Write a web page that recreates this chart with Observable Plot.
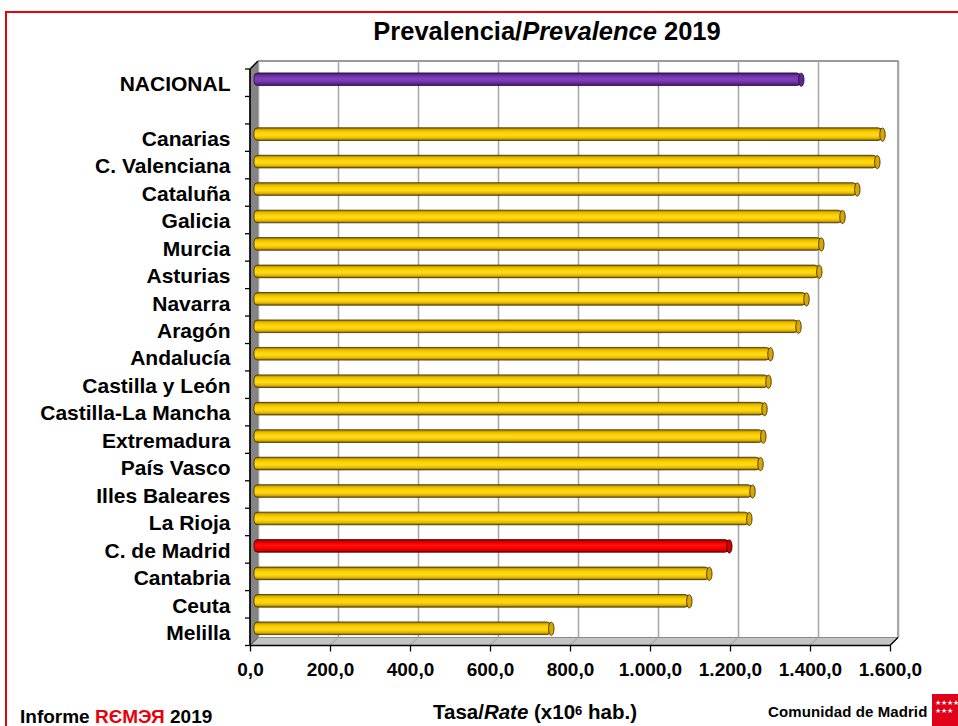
<!DOCTYPE html>
<html><head><meta charset="utf-8">
<script src="https://cdn.jsdelivr.net/npm/d3@7"></script>
<script src="https://cdn.jsdelivr.net/npm/@observablehq/plot@0.6"></script>
<style>
body{margin:0;background:#fff;font-family:Arial,"Liberation Sans",sans-serif;}
#wrap{position:relative;width:958px;height:726px;overflow:hidden;background:#fff;}
#border{position:absolute;left:5px;top:11px;width:980px;height:740px;border-left:2px solid #e8000b;border-top:2px solid #e8000b;}
#chart{position:absolute;left:0;top:0;width:958px;height:690px;}
#chart svg{max-width:none !important;width:958px;height:690px;}
#title{position:absolute;left:547px;top:16px;transform:translateX(-50%);white-space:nowrap;font-size:25.5px;font-weight:bold;color:#000;line-height:30px;}
#xlabel{position:absolute;left:535px;top:700px;transform:translateX(-50%);white-space:nowrap;font-size:20.5px;font-weight:bold;line-height:24px;}
#xlabel sup{font-size:13px;vertical-align:top;position:relative;top:-1px;}
#foot{position:absolute;left:20px;top:708px;font-size:19px;font-weight:bold;white-space:nowrap;line-height:18px;}
#foot span{color:#e8000b;}
#cm{position:absolute;left:768px;top:703px;font-size:15px;font-weight:900;white-space:nowrap;line-height:18px;letter-spacing:0.1px;}
#logo{position:absolute;left:932px;top:694px;width:30px;height:32px;background:#e1001a;color:#fff;font-size:7px;line-height:8px;padding:5px 0 0 3px;box-sizing:border-box;}
</style></head><body>
<div id="wrap">
  <div id="border"></div>
  <div id="chart"></div>
  <div id="title">Prevalencia/<i>Prevalence</i> 2019</div>
  <div id="xlabel">Tasa/<i>Rate</i> (x10<sup>6</sup> hab.)</div>
  <div id="foot">Informe <span>RЄMЭЯ</span> 2019</div>
  <div id="cm">Comunidad de Madrid</div>
  <div id="logo">★★★★<br>★★★</div>
</div>
<script>
// ---- data ----
const categories = ["NACIONAL", "Canarias", "C. Valenciana", "Cataluña", "Galicia", "Murcia", "Asturias", "Navarra", "Aragón", "Andalucía", "Castilla y León", "Castilla-La Mancha", "Extremadura", "País Vasco", "Illes Baleares", "La Rioja", "C. de Madrid", "Cantabria", "Ceuta", "Melilla"];
const values = [1367, 1570, 1557, 1507, 1470, 1417, 1412, 1380, 1360, 1290, 1285, 1275, 1272, 1265, 1245, 1237, 1187, 1137, 1087, 742];
const groups = ["nacional", "region", "region", "region", "region", "region", "region", "region", "region", "region", "region", "region", "region", "region", "region", "region", "madrid", "region", "region", "region"];
const gapLabel = " ";
const xTicks = [0, 200, 400, 600, 800, 1000, 1200, 1400, 1600];

const yDomain = [categories[0], gapLabel, ...categories.slice(1)];
const data = categories.map((c, i) => ({name: c, value: values[i], group: groups[i]}));

const fmt = d3.formatLocale({decimal: ",", thousands: ".", grouping: [3], currency: ["", "€"]}).format(",.1f");
const depth = 8, barDx = 4, barDy = -3.5;
const fills = {nacional: "url(#gPurple)", region: "url(#gGold)", madrid: "url(#gRed)"};
const caps = {nacional: "#5a2885", region: "#d9a800", madrid: "#cc0000"};
const capStroke = {nacional: "#2a0c45", region: "#3d3000", madrid: "#4a0000"};

const ellipse = {draw(ctx) {
  const rx = 2.7, ry = 6.6, k = 0.5523;
  ctx.moveTo(rx, 0);
  ctx.bezierCurveTo(rx, ry * k, rx * k, ry, 0, ry);
  ctx.bezierCurveTo(-rx * k, ry, -rx, ry * k, -rx, 0);
  ctx.bezierCurveTo(-rx, -ry * k, -rx * k, -ry, 0, -ry);
  ctx.bezierCurveTo(rx * k, -ry, rx, -ry * k, rx, 0);
  ctx.closePath();
}};

const bandInset = 7.4;
const barMarks = [];
for (const g of ["nacional", "region", "madrid"]) {
  const sub = data.filter(d => d.group === g);
  barMarks.push(Plot.barX(sub, {x: "value", y: "name", fill: fills[g], stroke: capStroke[g], strokeWidth: 0.8,
    insetTop: bandInset, insetBottom: bandInset, dx: barDx, dy: barDy, rx: 4}));
  barMarks.push(Plot.dot(sub, {x: "value", y: "name", symbol: ellipse, fill: caps[g], stroke: capStroke[g], strokeWidth: 0.9, dx: barDx, dy: barDy}));
}

const plot = Plot.plot({
  width: 958, height: 690,
  marginTop: 69, marginBottom: 44.5, marginLeft: 250, marginRight: 68,
  style: {background: "transparent", fontFamily: "Arial, 'Liberation Sans', sans-serif", overflow: "visible", color: "#000", maxWidth: "none"},
  x: {domain: [0, 1600], ticks: xTicks, tickFormat: fmt, tickSize: 6, tickPadding: 10.5, label: null},
  y: {domain: yDomain, type: "band", padding: 0, round: false, tickSize: 0, tickPadding: 20, label: null},
  marks: [
    Plot.ruleX(xTicks, {dx: depth, dy: -depth, stroke: "#a9a9a9", strokeWidth: 1.6}),
    ...barMarks
  ]
});
document.getElementById("chart").appendChild(plot);

// ---- 3D frame decoration computed from the plot's scales ----
const svg = d3.select(plot);
const xs = plot.scale("x"), ys = plot.scale("y");
const X = v => xs.apply(v);
const x0 = X(0), x1 = X(1600);
const yTop = ys.range[0], yBot = ys.range[1];
const step = (yBot - yTop) / ys.domain.length;

const frame = svg.insert("g", ":first-child");
const defs = svg.insert("defs", ":first-child");
function grad(id, stops) {
  const g = defs.append("linearGradient").attr("id", id).attr("x1", 0).attr("y1", 0).attr("x2", 0).attr("y2", 1);
  stops.forEach(([o, c]) => g.append("stop").attr("offset", o).attr("stop-color", c));
}
grad("gGold", [[0, "#8c6e00"], [0.18, "#e6b800"], [0.4, "#ffd400"], [0.6, "#ffda1a"], [0.82, "#e9b700"], [1, "#7d6200"]]);
grad("gPurple", [[0, "#3c1460"], [0.2, "#6a2ea0"], [0.45, "#8040b8"], [0.65, "#7a3ab2"], [0.85, "#5e2690"], [1, "#35104f"]]);
grad("gRed", [[0, "#8a0000"], [0.2, "#e00000"], [0.45, "#ff1010"], [0.65, "#ff0000"], [0.85, "#d80000"], [1, "#7a0000"]]);

// floor
frame.append("polygon").attr("points", [[x0, yBot], [x1, yBot], [x1 + depth, yBot - depth], [x0 + depth, yBot - depth]].join(" "))
  .attr("fill", "#c3c3c3").attr("stroke", "#8a8a8a").attr("stroke-width", 1);
xTicks.forEach(v => frame.append("line").attr("x1", X(v)).attr("y1", yBot).attr("x2", X(v) + depth).attr("y2", yBot - depth)
  .attr("stroke", "#9a9a9a").attr("stroke-width", 1));
// left wall
frame.append("polygon").attr("points", [[x0, yTop], [x0 + depth, yTop - depth], [x0 + depth, yBot - depth], [x0, yBot]].join(" "))
  .attr("fill", "#858585").attr("stroke", "#555").attr("stroke-width", 1);
// back wall edges
frame.append("polyline").attr("points", [[x0 + depth, yTop - depth], [x1 + depth, yTop - depth], [x1 + depth, yBot - depth]].join(" "))
  .attr("fill", "none").attr("stroke", "#7a7a7a").attr("stroke-width", 1.3);

// front axes
const front = svg.append("g");
front.append("line").attr("x1", x0).attr("y1", yTop).attr("x2", x0).attr("y2", yBot).attr("stroke", "#000").attr("stroke-width", 1.6);
front.append("line").attr("x1", x0).attr("y1", yBot).attr("x2", x1).attr("y2", yBot).attr("stroke", "#000").attr("stroke-width", 1.6);
front.append("line").attr("x1", x1).attr("y1", yBot).attr("x2", x1 + depth).attr("y2", yBot - depth).attr("stroke", "#000").attr("stroke-width", 1.3);
front.append("line").attr("x1", x0).attr("y1", yTop).attr("x2", x0 + depth).attr("y2", yTop - depth).attr("stroke", "#000").attr("stroke-width", 1.3);
for (let i = 0; i <= ys.domain.length; i++) {
  const yy = yTop + i * step;
  front.append("line").attr("x1", x0 - 5).attr("y1", yy).attr("x2", x0).attr("y2", yy).attr("stroke", "#000").attr("stroke-width", 1.3);
}

svg.selectAll("g[aria-label='y-axis tick label'], g[aria-label='y-axis tick label'] text")
  .attr("font-size", 21).attr("font-weight", "bold");
svg.selectAll("g[aria-label='y-axis tick label']").attr("transform", function () {
  const t = this.getAttribute("transform") || ""; return t + " translate(0,1)";
});
svg.selectAll("g[aria-label='x-axis tick label'], g[aria-label='x-axis tick label'] text")
  .attr("font-size", 19).attr("font-weight", "bold");
svg.selectAll("g[aria-label='x-axis tick']").attr("stroke", "#000").attr("stroke-width", 1.3);
</script>
</body></html>
